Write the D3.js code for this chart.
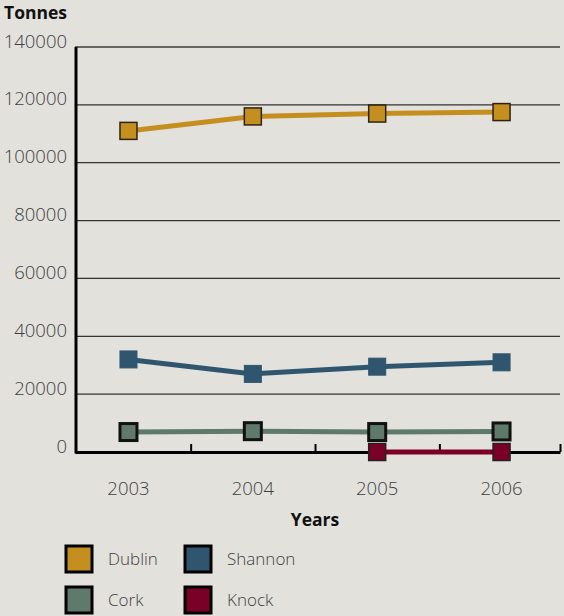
<!DOCTYPE html>
<html>
<head>
<meta charset="utf-8">
<script src="https://cdn.jsdelivr.net/npm/d3@7"></script>
<style>
  html, body { margin: 0; padding: 0; background: #e2e1dc; }
  svg { display: block; }
  text { font-family: "Open Sans", "Noto Sans", sans-serif; }
</style>
</head>
<body>
<svg id="chart" width="564" height="616"></svg>
<script>
// Freight handled at Irish airports, tonnes per year
const years = ["2003", "2004", "2005", "2006"];
const dublin  = [111000, 116000, 117000, 117500];
const shannon = [32000, 27000, 29500, 31000];
const cork    = [6900, 7200, 6900, 7100];
const knock   = [null, null, 0, 0];
const yTicks  = [0, 20000, 40000, 60000, 80000, 100000, 120000, 140000];
const seriesNames = ["Dublin", "Shannon", "Cork", "Knock"];

const series = [
  { name: "Dublin",  values: dublin,  color: "#c48f1e", stroke: "#2b2414", sw: 1.5 },
  { name: "Shannon", values: shannon, color: "#30566f", stroke: "#30566f", sw: 1 },
  { name: "Cork",    values: cork,    color: "#5f7a6a", stroke: "#111",    sw: 3 },
  { name: "Knock",   values: knock,   color: "#7a0028", stroke: "#222",    sw: 1.5 }
];

const svg = d3.select("#chart");
const plotLeft = 75, plotRight = 560, plotTop = 47, plotBottom = 452;

// Categories sit at integer positions; ticks fall between them
const x = d3.scaleLinear().domain([-0.43, 3.47]).range([plotLeft, plotRight]);
const y = d3.scaleLinear().domain([0, 140000]).range([plotBottom, plotTop]);

// Horizontal grid
svg.append("g")
  .selectAll("line")
  .data(yTicks.filter(d => d > 0))
  .join("line")
  .attr("x1", plotLeft).attr("x2", plotRight)
  .attr("y1", d => y(d)).attr("y2", d => y(d))
  .attr("stroke", d => d === 140000 ? "#666" : "#333")
  .attr("stroke-width", d => d === 140000 ? 2 : 1.3);

// Y tick labels
svg.append("g")
  .selectAll("text")
  .data(yTicks)
  .join("text")
  .attr("x", 67)
  .attr("y", d => y(d) + 0.5)
  .attr("text-anchor", "end")
  .attr("font-size", 18.5)
  .attr("font-weight", 300)
  .attr("fill", "#3f3f3f")
  .text(d => d);

// X axis with ticks between categories
const xAxis = d3.axisBottom(x)
  .tickValues([0.5, 1.5, 2.5, 3.47])
  .tickSize(-8)
  .tickSizeOuter(0)
  .tickFormat("");
const gx = svg.append("g").attr("transform", `translate(0,${plotBottom})`).call(xAxis);
gx.select(".domain").attr("stroke", "#000").attr("stroke-width", 3);
gx.selectAll(".tick line").attr("stroke", "#000").attr("stroke-width", 2);

// Y axis line
svg.append("line")
  .attr("x1", plotLeft + 1).attr("x2", plotLeft + 1)
  .attr("y1", plotTop).attr("y2", plotBottom + 1.5)
  .attr("stroke", "#000").attr("stroke-width", 3);

// Year labels
svg.append("g")
  .selectAll("text")
  .data(years)
  .join("text")
  .attr("x", (d, i) => x(i))
  .attr("y", 495)
  .attr("text-anchor", "middle")
  .attr("font-size", 18.5)
  .attr("font-weight", 300)
  .attr("fill", "#3f3f3f")
  .text(d => d);

// Axis titles
svg.append("text").attr("x", 4).attr("y", 18.5)
  .attr("font-size", 17.5).attr("font-weight", "bold").attr("fill", "#111")
  .text("Tonnes");
svg.append("text").attr("x", 315).attr("y", 526)
  .attr("text-anchor", "middle")
  .attr("font-size", 17.5).attr("font-weight", "bold").attr("fill", "#111")
  .text("Years");

// Lines and markers
const line = d3.line()
  .defined(d => d != null)
  .x((d, i) => x(i))
  .y(d => y(d));

const ms = 17;
series.forEach(s => {
  svg.append("path")
    .datum(s.values)
    .attr("d", line)
    .attr("fill", "none")
    .attr("stroke", s.color)
    .attr("stroke-width", 5);
  svg.append("g")
    .selectAll("rect")
    .data(s.values.map((v, i) => ({ v, i })).filter(d => d.v != null))
    .join("rect")
    .attr("x", d => x(d.i) - ms / 2)
    .attr("y", d => y(d.v) - ms / 2)
    .attr("width", ms).attr("height", ms)
    .attr("fill", s.color)
    .attr("stroke", s.stroke)
    .attr("stroke-width", s.sw);
});

// Legend
const legendPos = [[66, 546], [185, 546], [66, 587], [185, 587]];
const lg = svg.append("g")
  .selectAll("g")
  .data(series)
  .join("g")
  .attr("transform", (d, i) => `translate(${legendPos[i][0]},${legendPos[i][1]})`);
lg.append("rect")
  .attr("width", 26).attr("height", 26)
  .attr("fill", d => d.color)
  .attr("stroke", "#000").attr("stroke-width", 3);
lg.append("text")
  .attr("x", 42).attr("y", 19)
  .attr("font-size", 17)
  .attr("font-weight", 300)
  .attr("fill", "#3f3f3f")
  .text((d, i) => seriesNames[i]);
</script>
</body>
</html>
